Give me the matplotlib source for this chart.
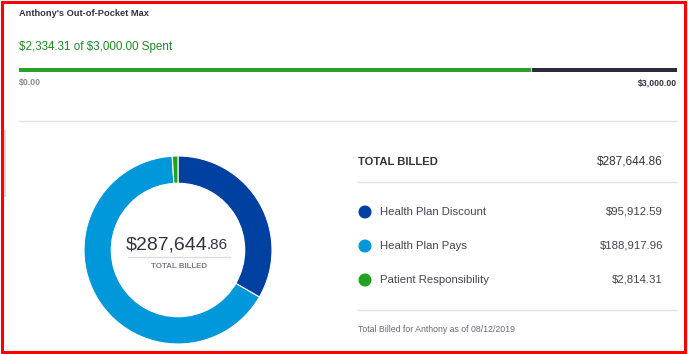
import matplotlib.pyplot as plt
from matplotlib.patches import Rectangle

plt.rcParams['font.family'] = ['Liberation Sans', 'DejaVu Sans']
plt.rcParams['text.parse_math'] = False

# data
spent = 2334.31
oop_max = 3000.00
labels = ['Health Plan Discount', 'Health Plan Pays', 'Patient Responsibility']
amounts = [95912.59, 188917.96, 2814.31]
colors = ['#0040A0', '#0098DA', '#24A024']
total = 287644.86

W, H = 688, 354
fig = plt.figure(figsize=(W / 100, H / 100), dpi=100)

# overlay axes in pixel coordinates
ax = fig.add_axes([0, 0, 1, 1])
ax.set_xlim(0, W)
ax.set_ylim(H, 0)
ax.axis('off')

dark = '#333340'
grey = '#6b6b78'

ax.text(19, 14, "Anthony's Out-of-Pocket Max", fontsize=6.7, fontweight='bold',
        color=dark, va='center', ha='left')
ax.text(19, 47, '${:,.2f} of ${:,.2f} Spent'.format(spent, oop_max), fontsize=8.4,
        color='#1E8A1E', va='center', ha='left')
ax.text(19, 83, '$0.00', fontsize=6.3, fontweight='bold', color='#8a8a96',
        va='center', ha='left')
ax.text(677, 83, '${:,.2f}'.format(oop_max), fontsize=6.3, fontweight='bold',
        color=dark, va='center', ha='right')

# separators
for y, x0 in [(121, 19), (182, 358), (310, 358)]:
    ax.plot([x0, 677], [y, y], color='#e2e2e6', lw=1)

# right panel
ax.text(358, 162, 'TOTAL BILLED', fontsize=8.1, fontweight='bold', color=dark,
        va='center', ha='left')
ax.text(663, 162, '${:,.2f}'.format(total), fontsize=8.5, color=dark,
        va='center', ha='right')
rows_y = [212, 246, 280]
ax.scatter([365] * len(labels), rows_y, s=70, c=colors, zorder=3)
for y, lab, amt in zip(rows_y, labels, amounts):
    ax.text(380, y, lab, fontsize=8.2, color='#444450', va='center', ha='left')
    ax.text(663, y, '${:,.2f}'.format(amt), fontsize=8.2, color='#444450',
            va='center', ha='right')
ax.text(358, 329, 'Total Billed for Anthony as of 08/12/2019', fontsize=6.3,
        color=grey, va='center', ha='left')

# donut centre text
whole, cents = '{:,.2f}'.format(total).split('.')
ax.text(207, 249, '$' + whole, fontsize=14, color=dark, va='baseline', ha='right')
ax.text(207, 249, '.' + cents, fontsize=11, color=dark, va='baseline', ha='left')
ax.plot([128, 230], [257, 257], color='#dcdce0', lw=1)
ax.text(179, 267, 'TOTAL BILLED', fontsize=5.7, fontweight='bold', color='#7a7a88',
        va='center', ha='center')

# frame
ax.add_patch(Rectangle((4, 130), 2, 67, color='#d8d8d8', lw=0))
ax.add_patch(Rectangle((2, 1.5), 683, 350.5, fill=False, edgecolor='#ff0000', lw=2.2))

# progress bar
pax = fig.add_axes([19 / W, (H - 72) / H, (677 - 19) / W, 4 / H])
pax.barh(0, oop_max, height=1, color='#2D2A3A')
pax.barh(0, spent, height=1, color='#2CA02C')
pax.plot([spent, spent], [-0.5, 0.5], color='#c8c8c8', lw=0.8)
pax.set_xlim(0, oop_max)
pax.set_ylim(-0.5, 0.5)
pax.axis('off')

# donut
cx, cy, r = 178, 250, 94
dax = fig.add_axes([(cx - r) / W, (H - cy - r) / H, 2 * r / W, 2 * r / H])
dax.pie(amounts, colors=colors, startangle=90, counterclock=False,
        wedgeprops=dict(width=0.29, edgecolor='white', linewidth=0.8))
dax.set_xlim(-1, 1)
dax.set_ylim(-1, 1)
dax.axis('off')

fig.savefig('out.png', dpi=100)
